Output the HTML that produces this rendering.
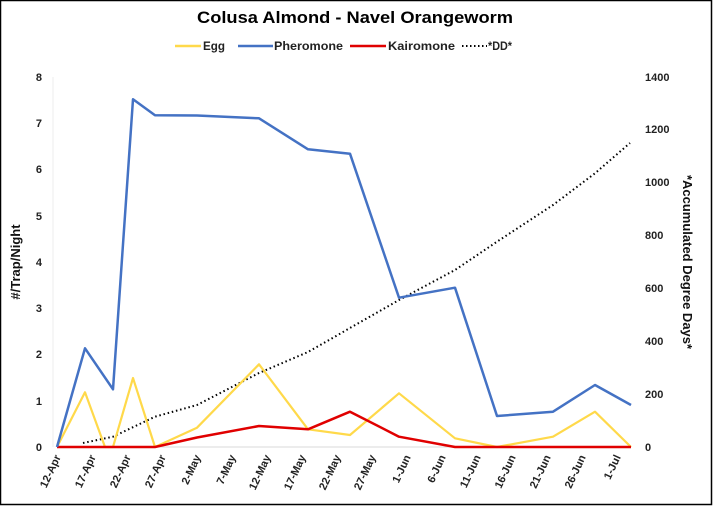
<!DOCTYPE html>
<html><head><style>
body{margin:0;background:#fff}
svg{display:block;font-family:"Liberation Sans",sans-serif}
</style></head><body>
<svg width="713" height="506" viewBox="0 0 713 506" xmlns="http://www.w3.org/2000/svg">
<rect x="0.5" y="0.5" width="711" height="504" fill="#fff" stroke="#000" stroke-width="1.5"/>
<text x="197" y="23" font-size="17" font-weight="bold" fill="#000" textLength="316" lengthAdjust="spacingAndGlyphs">Colusa Almond - Navel Orangeworm</text>
<g font-size="12" font-weight="bold" fill="#222">
<line x1="175" y1="46" x2="201" y2="46" stroke="#FFD94A" stroke-width="2.5"/><text x="203" y="50" textLength="22" lengthAdjust="spacingAndGlyphs">Egg</text>
<line x1="238" y1="46" x2="273" y2="46" stroke="#4472C4" stroke-width="2.5"/><text x="274" y="50" textLength="69" lengthAdjust="spacingAndGlyphs">Pheromone</text>
<line x1="350" y1="46" x2="386" y2="46" stroke="#E00000" stroke-width="2.5"/><text x="388" y="50" textLength="67" lengthAdjust="spacingAndGlyphs">Kairomone</text>
<line x1="462" y1="46" x2="487" y2="46" stroke="#000" stroke-width="2" stroke-dasharray="1.5,2.5"/><text x="488" y="50" textLength="24" lengthAdjust="spacingAndGlyphs">*DD*</text>
</g>
<line x1="57" y1="447" x2="631" y2="447" stroke="#d9d9d9" stroke-width="1"/>
<line x1="53" y1="77" x2="53" y2="447" stroke="#eee" stroke-width="1"/>
<g font-size="11" font-weight="bold" fill="#222" text-anchor="end">
<text x="42" y="451">0</text><text x="42" y="405">1</text><text x="42" y="358">2</text><text x="42" y="312">3</text><text x="42" y="266">4</text><text x="42" y="220">5</text><text x="42" y="173">6</text><text x="42" y="127">7</text><text x="42" y="81">8</text>
</g>
<g font-size="11" font-weight="bold" fill="#222">
<text x="645" y="451">0</text><text x="645" y="398">200</text><text x="645" y="345">400</text><text x="645" y="292">600</text><text x="645" y="239">800</text><text x="645" y="186">1000</text><text x="645" y="133">1200</text><text x="645" y="81">1400</text>
</g>
<text transform="translate(20,262) rotate(-90)" text-anchor="middle" font-size="13" font-weight="bold" fill="#111">#/Trap/Night</text>
<text transform="translate(683,262) rotate(90)" text-anchor="middle" font-size="13" font-weight="bold" fill="#111">*Accumulated Degree Days*</text>
<g font-size="11" font-weight="bold" fill="#222" text-anchor="end">
<text transform="translate(61,457) rotate(-65)">12-Apr</text>
<text transform="translate(96,457) rotate(-65)">17-Apr</text>
<text transform="translate(131,457) rotate(-65)">22-Apr</text>
<text transform="translate(166,457) rotate(-65)">27-Apr</text>
<text transform="translate(201,457) rotate(-65)">2-May</text>
<text transform="translate(236,457) rotate(-65)">7-May</text>
<text transform="translate(271,457) rotate(-65)">12-May</text>
<text transform="translate(306,457) rotate(-65)">17-May</text>
<text transform="translate(341,457) rotate(-65)">22-May</text>
<text transform="translate(376,457) rotate(-65)">27-May</text>
<text transform="translate(411,457) rotate(-65)">1-Jun</text>
<text transform="translate(446,457) rotate(-65)">6-Jun</text>
<text transform="translate(481,457) rotate(-65)">11-Jun</text>
<text transform="translate(516,457) rotate(-65)">16-Jun</text>
<text transform="translate(551,457) rotate(-65)">21-Jun</text>
<text transform="translate(586,457) rotate(-65)">26-Jun</text>
<text transform="translate(621,457) rotate(-65)">1-Jul</text>
</g>
<polyline fill="none" stroke="#000" stroke-width="2" stroke-dasharray="1.5,2.8" points="83,443 113,436.7 155,416.7 197,405 259,373 308,352 350,328 399,300 455,270 497,241.7 553,205 595,173.3 630,143"/>
<polyline fill="none" stroke="#FFD94A" stroke-width="2.2" stroke-linejoin="round" points="57,447 85,392.3 105,447 113,447 133,378 155,447 197,427.7 259,364.3 308,429.3 350,435 399,393.3 455,438.3 497,447 553,436.7 595,411.7 631,447"/>
<polyline fill="none" stroke="#E00000" stroke-width="2.5" stroke-linejoin="round" points="57,447 155,447 197,437.5 259,426 308,429.3 350,411.7 399,436.7 455,447 631,447"/>
<polyline fill="none" stroke="#4472C4" stroke-width="2.5" stroke-linejoin="round" points="57,447 85,348.3 113,389.3 133,99.3 155,115.3 197,115.5 259,118.3 308,149.3 350,153.7 399,297.7 455,287.7 497,416 553,411.7 595,385 631,405"/>
</svg>
</body></html>
